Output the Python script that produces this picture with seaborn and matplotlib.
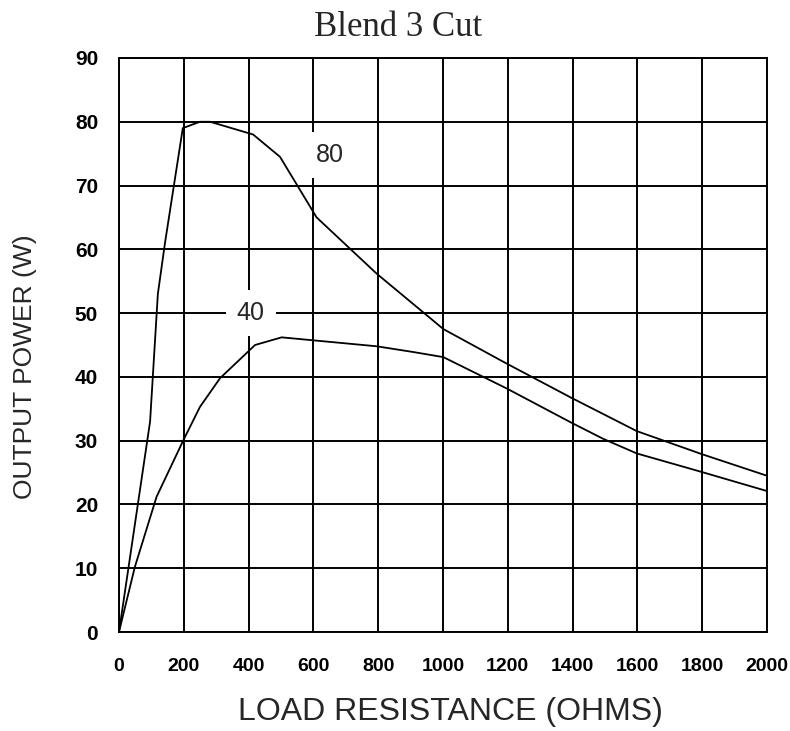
import numpy as np
import pandas as pd
import matplotlib
matplotlib.use("Agg")
import matplotlib.pyplot as plt
import seaborn as sns

# values
load_80 = [0, 96, 120, 142, 197, 250, 281, 414, 497, 610, 795, 1001, 1196, 1397, 1598, 1648, 1798, 2000]
power_80 = [0, 33, 53, 61, 79, 80, 80, 78, 74.5, 65, 56.2, 47.5, 42.1, 36.7, 31.5, 30.6, 27.9, 24.5]

load_40 = [0, 49, 116, 199, 250, 312, 420, 502, 795, 908, 1001, 1196, 1397, 1494, 1598, 1798, 2000]
power_40 = [0, 10.2, 21.2, 30.1, 35.3, 39.8, 45.0, 46.2, 44.8, 43.9, 43.1, 38.2, 32.8, 30.3, 28.0, 25.1, 22.1]

x_ticks = list(range(0, 2001, 200))
y_ticks = list(range(0, 91, 10))

df = pd.concat([
    pd.DataFrame({"load": load_80, "power": power_80, "setting": "80"}),
    pd.DataFrame({"load": load_40, "power": power_40, "setting": "40"}),
])

sns.set_style("white")
plt.rcParams['font.family'] = ['Liberation Sans', 'DejaVu Sans']

fig = plt.figure(figsize=(7.9, 7.31), dpi=100)
ax = fig.add_axes([0.1506, 0.1354, 0.8203, 0.7853])

sns.lineplot(data=df, x="load", y="power", hue="setting", palette=["black", "black"],
             linewidth=1.3, sort=False, legend=False, ax=ax, zorder=3)

ax.set_xlim(0, 2000)
ax.set_ylim(0, 90)
ax.set_xticks(x_ticks)
ax.set_yticks(y_ticks)
ax.grid(True, color="black", linewidth=1.4)
ax.set_axisbelow(True)
for s in ax.spines.values():
    s.set_color("black")
    s.set_linewidth(1.4)
ax.tick_params(direction="out", length=7, width=1.4, colors="black")
ax.tick_params(axis="x", labelsize=14, pad=12)
ax.tick_params(axis="y", labelsize=15, pad=6, length=9)
for lab in ax.get_xticklabels() + ax.get_yticklabels():
    lab.set_fontweight("bold")

ax.set_xlabel("LOAD RESISTANCE (OHMS)", fontsize=23)
ax.xaxis.set_label_coords(0.511, -0.113)
ax.set_ylabel("OUTPUT POWER (W)", fontsize=19)
ax.yaxis.set_label_coords(-0.127, 0.463)

# title sits centred on the whole figure
fig.text(0.504, 0.951, "Blend 3 Cut", fontsize=25, family="Liberation Serif",
         ha="center", va="baseline")

# curve labels
ax.text(651, 74.8, "80", fontsize=18, ha="center", va="center", zorder=4,
        bbox=dict(facecolor="white", edgecolor="none", pad=8))
ax.text(407, 50.0, "40", fontsize=18, ha="center", va="center", zorder=4,
        bbox=dict(facecolor="white", edgecolor="none", pad=8))

fig.savefig("out.png", dpi=100)
